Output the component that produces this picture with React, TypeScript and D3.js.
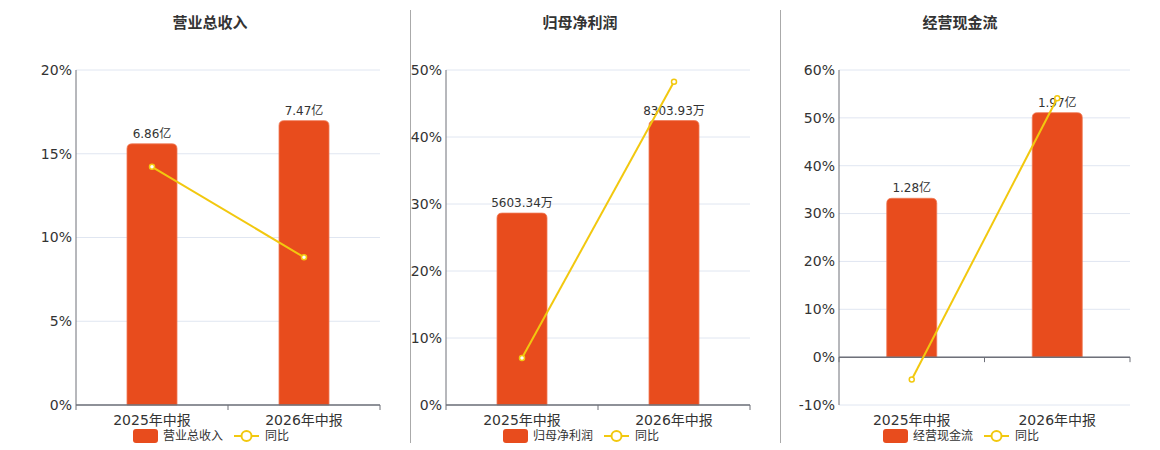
import React from 'react';
import * as d3 from 'd3';

const categories = ['2025年中报', '2026年中报'];
const titles = ['营业总收入', '归母净利润', '经营现金流'];

const revenueValues = [6.86, 7.47];
const revenueLabels = ['6.86亿', '7.47亿'];
const revenueYoy = [14.22, 8.82];

const profitValues = [5603.34, 8303.93];
const profitLabels = ['5603.34万', '8303.93万'];
const profitYoy = [7.0, 48.25];

const cashValues = [1.28, 1.97];
const cashLabels = ['1.28亿', '1.97亿'];
const cashYoy = [-4.67, 54.1];

const revenueTicks = [0, 5, 10, 15, 20];
const profitTicks = [0, 10, 20, 30, 40, 50];
const cashTicks = [-10, 0, 10, 20, 30, 40, 50, 60];

const BAR = '#e84c1d';
const LINE = '#f2c80f';
const FONT = '"DejaVu Sans", "Noto Sans CJK SC", sans-serif';

interface PanelProps {
  x0: number;
  x1: number;
  title: string;
  titleX: number;
  legendLeft: number;
  values: number[];
  labels: string[];
  yoy: number[];
  ticks: number[];
  barDomain: [number, number];
}

const Panel: React.FC<PanelProps> = ({ x0, x1, title, titleX, legendLeft, values, labels, yoy, ticks, barDomain }) => {
  const top = 70;
  const bottom = 405;
  const x = d3.scaleBand<string>().domain(categories).range([x0, x1]);
  const y = d3.scaleLinear().domain([ticks[0], ticks[ticks.length - 1]]).range([bottom, top]);
  const yBar = d3.scaleLinear().domain(barDomain).range([bottom, top]);
  const zero = y(0);
  const barW = 50;
  const r = 5;

  const line = d3.line<number>()
    .x((_, i) => x(categories[i])! + x.bandwidth() / 2)
    .y(d => y(d));

  return (
    <g fontFamily={FONT}>
      <text x={titleX} y={28} textAnchor="middle" fontSize={15} fontWeight="bold" fill="#333">{title}</text>

      {ticks.map(t => (
        <g key={t}>
          <line x1={x0} x2={x1} y1={y(t)} y2={y(t)} stroke="#e0e6f1" />
          <text x={x0 - 4} y={y(t)} dy="0.35em" textAnchor="end" fontSize={14} fill="#333">{t}%</text>
        </g>
      ))}

      {values.map((v, i) => {
        const bx = x(categories[i])! + x.bandwidth() / 2 - barW / 2;
        const by = yBar(v);
        const h = zero - by;
        const d = `M${bx},${zero} L${bx},${by + r} Q${bx},${by} ${bx + r},${by} L${bx + barW - r},${by} Q${bx + barW},${by} ${bx + barW},${by + r} L${bx + barW},${zero} Z`;
        return (
          <g key={i}>
            <path d={h > 0 ? d : ''} fill={BAR} stroke="#f07a55" strokeWidth={0.8} />
            <text x={bx + barW / 2} y={by - 6} textAnchor="middle" fontSize={12} fill="#333">{labels[i]}</text>
          </g>
        );
      })}

      <line x1={x0} x2={x0} y1={top} y2={bottom} stroke="#6e7079" strokeWidth={1} />
      <line x1={x0} x2={x1} y1={zero} y2={zero} stroke="#6e7079" strokeWidth={1.5} />
      {[x0, x0 + x.bandwidth(), x1].map((tx, i) => (
        <line key={i} x1={tx} x2={tx} y1={zero} y2={zero + 5} stroke="#6e7079" />
      ))}
      {categories.map(c => (
        <text key={c} x={x(c)! + x.bandwidth() / 2} y={425} textAnchor="middle" fontSize={14} fill="#333">{c}</text>
      ))}

      <path d={line(yoy) || ''} fill="none" stroke={LINE} strokeWidth={2} />
      {yoy.map((v, i) => (
        <circle key={i} cx={x(categories[i])! + x.bandwidth() / 2} cy={y(v)} r={2.5} fill="#fff" stroke={LINE} strokeWidth={1.5} />
      ))}

      <g>
        <rect x={legendLeft} y={429} width={25} height={14} rx={3} fill={BAR} />
        <text x={legendLeft + 30} y={436} dy="0.35em" fontSize={12} fill="#333">{title}</text>
        <line x1={legendLeft + 101} x2={legendLeft + 126} y1={436} y2={436} stroke={LINE} strokeWidth={2} />
        <circle cx={legendLeft + 113.5} cy={436} r={5} fill="#fff" stroke={LINE} strokeWidth={2} />
        <text x={legendLeft + 132} y={436} dy="0.35em" fontSize={12} fill="#333">同比</text>
      </g>
    </g>
  );
};

export default function App() {
  return (
    <svg width={1160} height={450} style={{ position: 'absolute', left: 0, top: 0, background: '#fff' }}>
      <line x1={410.5} x2={410.5} y1={10} y2={443} stroke="#aaa" />
      <line x1={780.5} x2={780.5} y1={10} y2={443} stroke="#aaa" />
      <Panel x0={76} x1={380} title={titles[0]} titleX={210} legendLeft={133} values={revenueValues} labels={revenueLabels}
        yoy={revenueYoy} ticks={revenueTicks} barDomain={[0, 8.8]} />
      <Panel x0={446} x1={750} title={titles[1]} titleX={580} legendLeft={503} values={profitValues} labels={profitLabels}
        yoy={profitYoy} ticks={profitTicks} barDomain={[0, 9781]} />
      <Panel x0={839} x1={1130} title={titles[2]} titleX={960} legendLeft={883} values={cashValues} labels={cashLabels}
        yoy={cashYoy} ticks={cashTicks} barDomain={[-0.386, 2.314]} />
    </svg>
  );
}
